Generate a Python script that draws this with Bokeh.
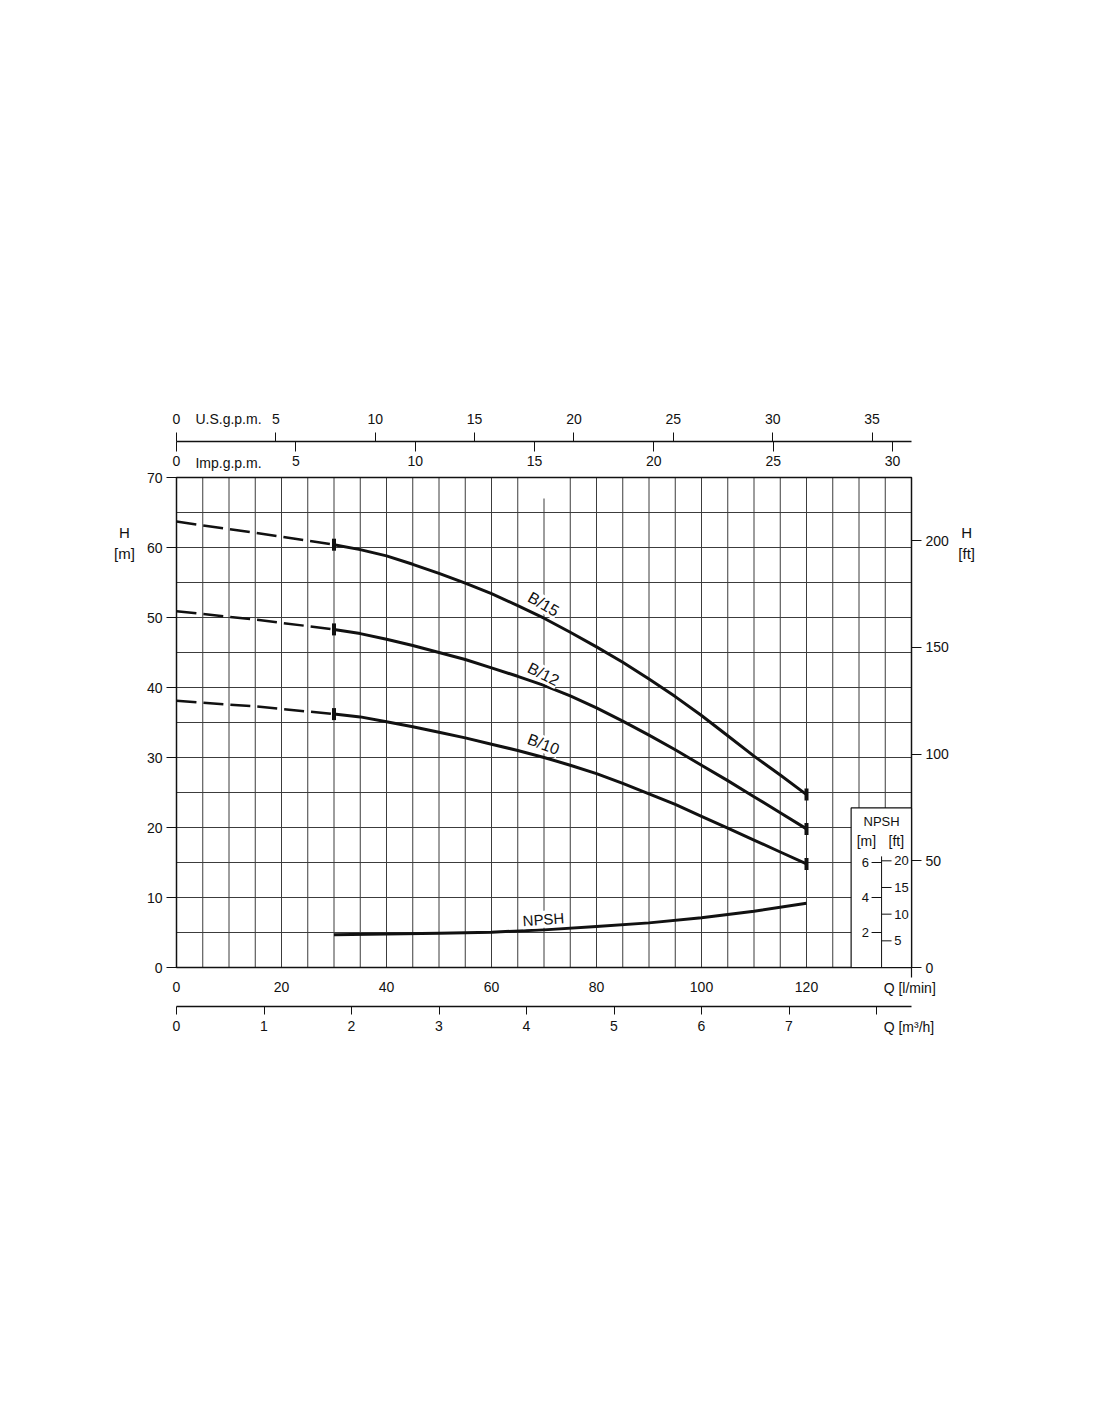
import numpy as np
from bokeh.plotting import figure
from bokeh.models import Range1d, LinearAxis, FixedTicker, Label
from bokeh.embed import file_html
from bokeh.resources import INLINE
from bokeh.core.properties import value

# ---------------- data ----------------
q_dash = [0, 15, 30]
h_b15_dash = [63.7, 62.1, 60.4]
h_b12_dash = [50.9, 49.7, 48.3]
h_b10_dash = [38.1, 37.3, 36.2]

q_solid = [30, 35, 40, 45, 50, 55, 60, 65, 70, 75, 80, 85, 90, 95, 100, 105, 110, 115, 120]
h_b15 = [60.4, 59.7, 58.8, 57.6, 56.3, 54.9, 53.4, 51.7, 49.9, 47.9, 45.8, 43.6, 41.2, 38.7, 36.0, 33.1, 30.2, 27.5, 24.7]
h_b12 = [48.3, 47.7, 46.9, 46.0, 45.0, 44.0, 42.8, 41.6, 40.3, 38.8, 37.1, 35.2, 33.2, 31.1, 28.9, 26.7, 24.4, 22.1, 19.8]
h_b10 = [36.2, 35.8, 35.1, 34.4, 33.6, 32.8, 31.9, 31.0, 30.0, 28.9, 27.7, 26.3, 24.8, 23.3, 21.6, 19.9, 18.2, 16.5, 14.8]

q_npsh = [30, 40, 50, 60, 70, 80, 90, 100, 110, 120]
npsh_m = [1.87, 1.92, 1.96, 2.02, 2.15, 2.34, 2.55, 2.84, 3.22, 3.67]

curve_names = ["B/15", "B/12", "B/10"]

q_ticks = [0, 20, 40, 60, 80, 100, 120]
h_m_ticks = [0, 10, 20, 30, 40, 50, 60, 70]
h_ft_ticks = [0, 50, 100, 150, 200]
m3h_ticks = [0, 1, 2, 3, 4, 5, 6, 7, 8]
usgpm_ticks = [0, 5, 10, 15, 20, 25, 30, 35]
impgpm_ticks = [0, 5, 10, 15, 20, 25, 30]
npsh_m_ticks = [2, 4, 6]
npsh_ft_ticks = [5, 10, 15, 20]

grid_q = [q for q in range(5, 140, 5) if q != 70]
grid_h = list(range(5, 70, 5))

# unit conversions
L_PER_USGAL = 3.78541
L_PER_IMPGAL = 4.54609
M_PER_FT = 0.3048
NPSH_SCALE = 2.5
M3H_PER_LMIN = 0.06
QMAX, HMAX = 140, 70

# drawing-area ranges (grid box is Q 0..140, H 0..70)
XR = (-16, 160)
YR = (-11, 82)
Y_GALLON_AXIS = 75.14     # height of the gallon scales' line
Y_M3H_AXIS = -5.57        # height of the m3/h scale line

FONT = "Liberation Sans"
INK = "#111111"
GRID = "#3c3c3c"
TICK_FS = "14px"

p = figure(frame_width=int((XR[1] - XR[0]) * 5.25), frame_height=int((YR[1] - YR[0]) * 7),
           x_range=Range1d(*XR), y_range=Range1d(*YR),
           min_border_left=92, min_border_right=40, min_border_top=393, min_border_bottom=40,
           output_backend="svg", toolbar_location=None)
p.outline_line_color = None
p.grid.visible = False
p.background_fill_color = "white"
p.border_fill_color = "white"
p.extra_y_ranges = {"ft": Range1d(YR[0] / M_PER_FT, YR[1] / M_PER_FT),
                    "npsh": Range1d(YR[0] / NPSH_SCALE, YR[1] / NPSH_SCALE)}
p.extra_x_ranges = {"m3h": Range1d(XR[0] * M3H_PER_LMIN, XR[1] * M3H_PER_LMIN),
                    "us": Range1d(XR[0] / L_PER_USGAL, XR[1] / L_PER_USGAL),
                    "imp": Range1d(XR[0] / L_PER_IMPGAL, XR[1] / L_PER_IMPGAL)}


def style_axis(ax, tick_out=10, standoff=4, line=False):
    ax.major_tick_out = tick_out
    ax.major_tick_in = 0
    ax.minor_tick_out = 0
    ax.minor_tick_in = 0
    ax.axis_line_color = INK if line else None
    ax.major_tick_line_color = INK
    ax.major_tick_line_width = 1
    ax.major_label_text_font = FONT
    ax.major_label_text_font_size = TICK_FS
    ax.major_label_text_color = INK
    ax.major_label_standoff = standoff


# H [m] axis on the left edge of the grid
p.yaxis.ticker = FixedTicker(ticks=h_m_ticks)
p.yaxis.fixed_location = 0
style_axis(p.yaxis[0], tick_out=10, standoff=4)

# Q [l/min] axis on the bottom edge
p.xaxis.ticker = FixedTicker(ticks=q_ticks)
p.xaxis.fixed_location = 0
style_axis(p.xaxis[0], tick_out=0, standoff=14)

# H [ft] axis on the right edge
ft_ax = LinearAxis(y_range_name="ft", ticker=FixedTicker(ticks=h_ft_ticks), fixed_location=QMAX)
style_axis(ft_ax, tick_out=10, standoff=4)
p.add_layout(ft_ax, "right")

# Q [m3/h] axis
m3_ax = LinearAxis(x_range_name="m3h", ticker=FixedTicker(ticks=m3h_ticks),
                   major_label_overrides={8: ""}, fixed_location=Y_M3H_AXIS)
style_axis(m3_ax, tick_out=8, standoff=7)
p.add_layout(m3_ax, "below")

# gallon scales on top
us_ax = LinearAxis(x_range_name="us", ticker=FixedTicker(ticks=usgpm_ticks), fixed_location=Y_GALLON_AXIS)
style_axis(us_ax, tick_out=9, standoff=9)
p.add_layout(us_ax, "above")
imp_ax = LinearAxis(x_range_name="imp", ticker=FixedTicker(ticks=impgpm_ticks), fixed_location=Y_GALLON_AXIS)
style_axis(imp_ax, tick_out=10, standoff=4)
p.add_layout(imp_ax, "below")

# scale lines (span only the grid width)
p.segment(x0=[0, 0], y0=[Y_GALLON_AXIS, Y_M3H_AXIS], x1=[QMAX, QMAX], y1=[Y_GALLON_AXIS, Y_M3H_AXIS],
          line_color=INK, line_width=1.6)
p.segment(x0=[QMAX], y0=[0], x1=[QMAX], y1=[-10 / 7], line_color=INK, line_width=1.2)

# grid
p.segment(x0=grid_q, y0=[0] * len(grid_q), x1=grid_q, y1=[HMAX] * len(grid_q),
          line_color=GRID, line_width=1)
p.segment(x0=[0] * len(grid_h), y0=grid_h, x1=[QMAX] * len(grid_h), y1=grid_h,
          line_color=GRID, line_width=1)
p.segment(x0=[70], y0=[0], x1=[70], y1=[67], line_color=GRID, line_width=1)
p.quad(left=[0], right=[QMAX], bottom=[0], top=[HMAX], fill_color=None,
       line_color=INK, line_width=1.5)

# curves
for name, hd, hs in zip(curve_names, [h_b15_dash, h_b12_dash, h_b10_dash], [h_b15, h_b12, h_b10]):
    p.line(q_dash, hd, line_color=INK, line_width=2.5, line_dash="20 7")
    p.line(q_solid, hs, line_color=INK, line_width=3, line_join="round")
    p.scatter([q_solid[0], q_solid[-1]], [hs[0], hs[-1]], marker="dash", angle=np.pi / 2,
              size=12, line_width=4, line_color=INK)

p.line(q_npsh, npsh_m, y_range_name="npsh", line_color=INK, line_width=3, line_join="round")

# NPSH scale box
p.quad(left=[128.5], right=[QMAX], bottom=[0], top=[22.8], fill_color="white",
       line_color=INK, line_width=1.2)
ax_x = 134.3
tick_len = 10 / 5.25
p.segment(x0=[ax_x], y0=[0], x1=[ax_x], y1=[6.35], y_range_name="npsh", line_color=INK, line_width=1)
p.segment(x0=[ax_x - tick_len] * len(npsh_m_ticks), y0=npsh_m_ticks,
          x1=[ax_x] * len(npsh_m_ticks), y1=npsh_m_ticks,
          y_range_name="npsh", line_color=INK, line_width=1)
ft_in_m = [v * M_PER_FT for v in npsh_ft_ticks]
p.segment(x0=[ax_x] * len(ft_in_m), y0=ft_in_m, x1=[ax_x + tick_len] * len(ft_in_m), y1=ft_in_m,
          y_range_name="npsh", line_color=INK, line_width=1)
p.text(x=[ax_x - tick_len - 0.5] * len(npsh_m_ticks), y=npsh_m_ticks,
       text=[str(v) for v in npsh_m_ticks], y_range_name="npsh",
       text_font=value(FONT), text_font_size="13px", text_color=INK,
       text_align="right", text_baseline="middle")
p.text(x=[ax_x + tick_len + 0.5] * len(ft_in_m), y=ft_in_m,
       text=[str(v) for v in npsh_ft_ticks], y_range_name="npsh",
       text_font=value(FONT), text_font_size="13px", text_color=INK,
       text_align="left", text_baseline="middle")
p.text(x=[134.3], y=[20.9], text=["NPSH"], text_font=value(FONT), text_font_size="13px",
       text_color=INK, text_align="center", text_baseline="middle")
p.text(x=[131.4, 137.1], y=[18.1, 18.1], text=["[m]", "[ft]"], text_font=value(FONT),
       text_font_size="14px", text_color=INK, text_align="center", text_baseline="middle")

# curve labels
for name, ly, ang in zip(curve_names, [51.9, 41.9, 31.9], [-0.52, -0.46, -0.36]):
    p.add_layout(Label(x=69.9, y=ly, text=name, angle=ang, text_font=FONT, text_font_size="16px",
                       text_color=INK, text_align="center", text_baseline="middle",
                       background_fill_color="white"))
p.add_layout(Label(x=69.9, y=6.9, text="NPSH", angle=0.07, text_font=FONT, text_font_size="15px",
                   text_color=INK, text_align="center", text_baseline="middle",
                   background_fill_color="white"))


def lab(x, y, text, align="center", size="14px"):
    p.add_layout(Label(x=x, y=y, text=text, text_font=FONT, text_font_size=size, text_color=INK,
                       text_align=align, text_baseline="middle"))


lab(-9.9, 62.1, "H", size="15px")
lab(-9.9, 59.1, "[m]", size="15px")
lab(150.5, 62.1, "H", size="15px")
lab(150.5, 59.1, "[ft]", size="15px")
lab(134.7, -2.86, "Q [l/min]", align="left")
lab(134.7, -8.43, "Q [m³/h]", align="left")
lab(3.6, 78.3, "U.S.g.p.m.", align="left")
lab(3.6, 72.1, "Imp.g.p.m.", align="left")

open("out.html", "w").write(file_html(p, INLINE))
